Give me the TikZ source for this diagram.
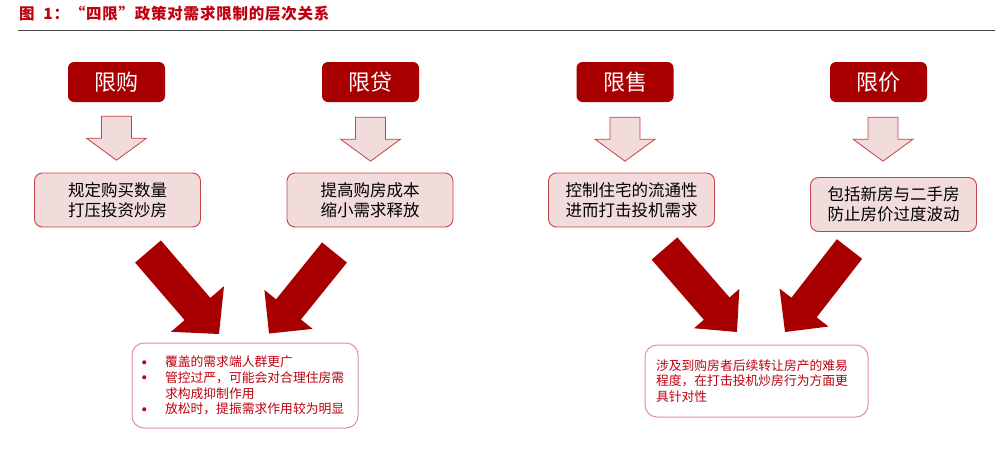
\documentclass[tikz,border=0pt]{standalone}
\usepackage{fontspec}
\setmainfont{Noto Sans CJK SC}
\usetikzlibrary{calc}
\definecolor{deepred}{HTML}{A80000}
\definecolor{titlered}{HTML}{BE0010}
\definecolor{pinkfill}{HTML}{F2DCDB}
\definecolor{pinkline}{HTML}{C0444A}
\definecolor{softline}{HTML}{E58D97}
\definecolor{rulegray}{HTML}{404040}
\newcommand\bigarrow[6]{%
  \coordinate (#6) at ($(#2)!#5pt!(#1)$);
  \fill[deepred] ($(#1)!#3pt!90:(#2)$) -- ($(#6)!#3pt!90:(#2)$) -- ($(#6)!#4pt!90:(#2)$) -- (#2)
    -- ($(#6)!#4pt!-90:(#2)$) -- ($(#6)!#3pt!-90:(#2)$) -- ($(#1)!#3pt!-90:(#2)$) -- cycle;}
\tikzset{
  topbox/.style={fill=deepred, rounded corners=6pt, minimum width=97pt, minimum height=40pt,
    text=white, font=\fontsize{22}{24}\selectfont, inner sep=0pt},
  midbox/.style={fill=pinkfill, draw=pinkline, line width=0.9pt, rounded corners=8pt,
    minimum width=166pt, minimum height=54pt, align=center, inner sep=0pt,
    font=\fontsize{16.5}{20}\selectfont},
  lowbox/.style={draw=softline, line width=1pt, rounded corners=12pt, fill=white,
    align=left, text=titlered, font=\fontsize{12.8}{15.7}\selectfont, inner sep=0pt},
  downarrow/.pic={\draw[fill=pinkfill, draw=pinkline, line width=0.8pt]
    (-15,0) -- (15,0) -- (15,22) -- (30,22) -- (0,44) -- (-30,22) -- (-15,22) -- cycle;}
}
\newcommand\bul{\makebox[23pt][l]{\raisebox{2.5pt}{\fontsize{4.5}{5}\selectfont ●}}}
\begin{document}
\begin{tikzpicture}[x=1pt,y=-1pt]
\useasboundingbox (0,0) rectangle (1000,456);
% title
\node[anchor=west, text=titlered, inner sep=0pt,
  font=\bfseries\fontsize{15.5}{17}\selectfont\addfontfeatures{LetterSpace=5}] (title) at (19,14)
  {图\ \ 1：“四限”政策对需求限制的层次关系};
\coordinate (ruleL) at (18,30);
\coordinate (ruleR) at (995,30);
\draw[rulegray, line width=1pt] (ruleL) -- (ruleR);
% top boxes
\node[topbox] (xg) at (116.5,82) {限购};
\node[topbox] (xd) at (370.5,82) {限贷};
\node[topbox] (xs) at (625,82) {限售};
\node[topbox] (xj) at (878.5,82) {限价};
% down arrows
\pic at ($(xg.south)+(0,14)$) {downarrow};
\pic at ($(xd.south)+(0,15)$) {downarrow};
\pic at ($(xs.south)+(0,15)$) {downarrow};
\pic at ($(xj.south)+(4.5,15)$) {downarrow};
% middle boxes
\node[midbox] (m1) at (117.5,200) {规定购买数量\\打压投资炒房};
\node[midbox] (m2) at (370,200) {提高购房成本\\缩小需求释放};
\node[midbox] (m3) at (631.5,200) {控制住宅的流通性\\进而打击投机需求};
\node[midbox] (m4) at (893.5,204.5) {包括新房与二手房\\防止房价过度波动};
% bottom boxes
\node[lowbox, minimum width=226pt, minimum height=85pt, text width=206pt, inner xsep=10pt] (b1) at (245,385.5)
  {\bul 覆盖的需求端人群更广\\
   \bul 管控过严，可能会对合理住房需\\
   \hspace*{23pt}求构成抑制作用\\
   \bul 放松时，提振需求作用较为明显};
\node[lowbox, minimum width=223pt, minimum height=72pt, text width=201pt, inner xsep=11pt] (b2) at (756.5,381)
  {涉及到购房者后续转让房产的难易\\程度，在打击投机炒房行为方面更\\具针对性};
% big arrows
\coordinate (aT) at (148,251.5); \coordinate (aP) at (219,334);
\coordinate (bT) at (334.5,252.5); \coordinate (bP) at (269,333.5);
\coordinate (cT) at (664.5,248.5); \coordinate (cP) at (737,332);
\coordinate (dT) at (849.5,249); \coordinate (dP) at (785,332);
\bigarrow{aT}{aP}{17}{35}{33}{aH}
\bigarrow{bT}{bP}{16}{31}{31}{bH}
\bigarrow{cT}{cP}{17}{30}{31}{cH}
\bigarrow{dT}{dP}{16}{31}{31}{dH}
\end{tikzpicture}
\end{document}
